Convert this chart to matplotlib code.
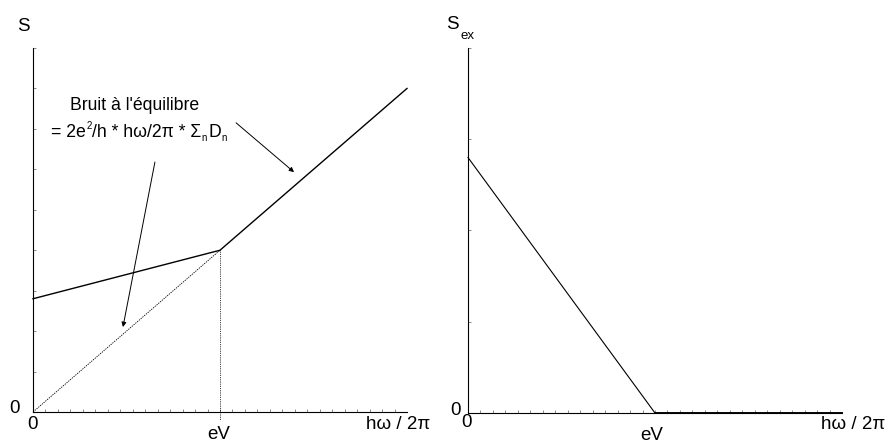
import numpy as np
import matplotlib
matplotlib.use("Agg")
import matplotlib.pyplot as plt

plt.rcParams['font.family'] = ['Liberation Sans', 'DejaVu Sans']

# left panel: total noise S, and equilibrium part
x_total = [0, 1, 2]          # 0, eV, end of axis
s_total = [2.8, 4.0, 8.0]
x_eq = [0, 1]
s_eq = [0, 4.0]
# right panel: excess noise
x_ex = [0, 1, 2]
s_ex = [2.8, 0, 0]

W, H = 891, 448
fig = plt.figure(figsize=(W / 100, H / 100), dpi=100)
renderer = fig.canvas.get_renderer()

def px(x, y):
    return x / W, 1 - y / H

def rich(x, y, segs):
    # place text pieces one after another on a baseline (pixel coords from top-left)
    cur = x
    for s, dy, size, gap in segs:
        t = fig.text(*px(cur, y + dy), s, fontsize=size, ha='left', va='baseline')
        cur += t.get_window_extent(renderer=renderer).width + gap

ax1 = fig.add_axes([33 / W, 1 - 412 / H, 374 / W, 364 / H])
ax2 = fig.add_axes([468 / W, 1 - 413 / H, 374 / W, 365 / H])

for ax in (ax1, ax2):
    ax.spines['top'].set_visible(False)
    ax.spines['right'].set_visible(False)
    ax.spines['left'].set_linewidth(0.8)
    ax.spines['bottom'].set_linewidth(0.8)
    ax.set_xlim(0, 2)
    ax.set_xticks(np.arange(1, 30) * 2 / 30)
    ax.tick_params(direction='in', length=2.5, width=0.5, color='0.35',
                   labelbottom=False, labelleft=False)
    ax.set_facecolor('none')

ax1.set_ylim(0, 9)
ax1.set_yticks(np.arange(1, 10))
ax2.set_ylim(0, 4)
ax2.set_yticks(np.arange(1, 5))

# left panel curves
ax1.plot(x_total, s_total, color='k', lw=1.0, clip_on=False)
ax1.plot(x_eq, s_eq, color='k', lw=0.6, ls=(0, (1.6, 1.2)), clip_on=False)
ax1.plot([x_total[1], x_total[1]], [s_total[1], -0.2], color='k', lw=0.6,
         ls=(0, (1, 1.2)), clip_on=False)

ax1.annotate('', xy=(1.396, 5.93), xytext=(1.086, 7.15),
             arrowprops=dict(arrowstyle='-|>', lw=0.7, color='k', mutation_scale=7,
                             shrinkA=0, shrinkB=0))
ax1.annotate('', xy=(0.481, 2.10), xytext=(0.652, 6.18),
             arrowprops=dict(arrowstyle='-|>', lw=0.7, color='k', mutation_scale=7,
                             shrinkA=0, shrinkB=0))

# right panel curve
ax2.plot(x_ex, s_ex, color='k', lw=0.8, clip_on=False)
ax2.plot(x_ex[1:], s_ex[1:], color='k', lw=1.3, clip_on=False)

# annotation text
ann = 12.7
fig.text(*px(70, 110), "Bruit à l'équilibre", fontsize=ann, ha='left', va='baseline')
rich(51, 137, [("= 2e", 0, ann, 0.5), ("2", -8, 7, 0.5),
               ("/h * hω/2π * Σ", 0, ann, 0.5), ("n", 4, 7, 1),
               ("D", 0, ann, 0.5), ("n", 4, 7, 0)])

fs = 13.5
# labels left
fig.text(*px(17, 31), "S", fontsize=fs, ha='left', va='baseline')
fig.text(*px(20, 408), "0", fontsize=fs, ha='right', va='center')
fig.text(*px(33, 424), "0", fontsize=fs, ha='center', va='center')
fig.text(*px(219, 434), "eV", fontsize=fs, ha='center', va='center')
fig.text(*px(398, 424), "hω / 2π", fontsize=fs, ha='center', va='center')

# labels right
rich(446, 29, [("S", 0, fs, 2), ("ex", 10, 9.5, 0)])
fig.text(*px(461, 410), "0", fontsize=fs, ha='right', va='center')
fig.text(*px(467, 422), "0", fontsize=fs, ha='center', va='center')
fig.text(*px(652, 435), "eV", fontsize=fs, ha='center', va='center')
fig.text(*px(853, 424), "hω / 2π", fontsize=fs, ha='center', va='center')

fig.savefig('out.png', dpi=100)
